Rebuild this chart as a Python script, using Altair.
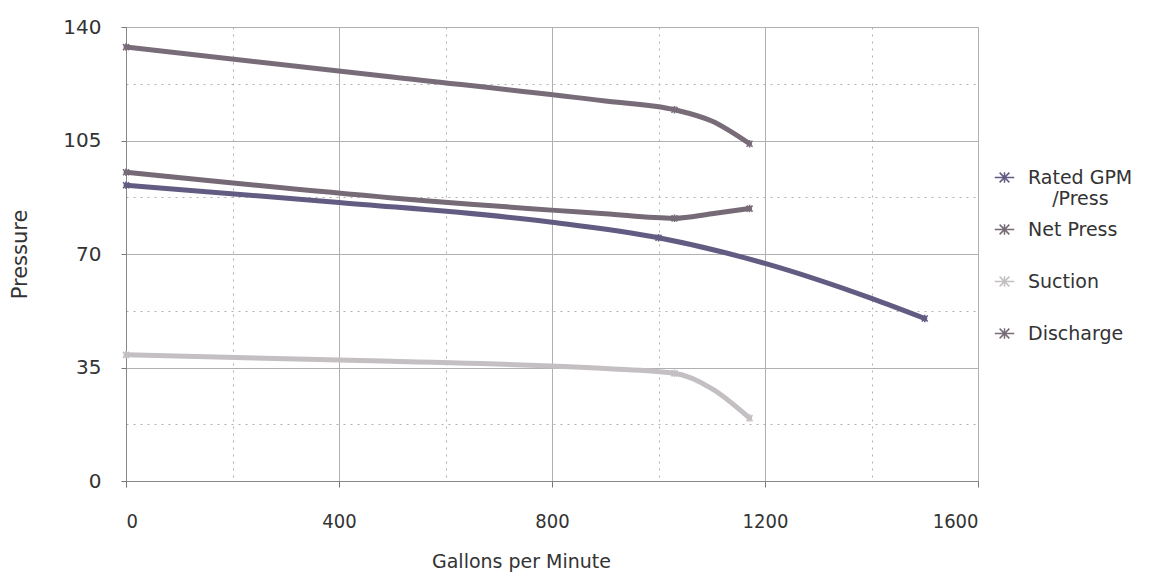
import altair as alt
import pandas as pd

# ---- data ----
series_names = ["Rated GPM /Press", "Net Press", "Suction", "Discharge"]
series_colors = ["#625c82", "#756a76", "#c3bfc3", "#786c78"]

rated_gpm = [0, 400, 800, 1000, 1200, 1400, 1500]
rated_psi = [91.2, 85.9, 79.8, 75.0, 67.1, 56.3, 50.1]
rated_marks = [0, 1000, 1500]

net_gpm = [0, 500, 900, 1030, 1100, 1171]
net_psi = [95.2, 87.3, 82.4, 81.0, 82.4, 84.0]
net_marks = [0, 1030, 1171]

suction_gpm = [0, 500, 900, 1030, 1100, 1171]
suction_psi = [38.9, 36.9, 34.7, 33.2, 28.5, 19.4]
suction_marks = [0, 1030, 1171]

discharge_gpm = [0, 500, 900, 1030, 1100, 1171]
discharge_psi = [133.8, 124.6, 117.2, 114.5, 111.0, 104.0]
discharge_marks = [0, 1030, 1171]

x_ticks = [0, 200, 400, 600, 800, 1000, 1200, 1400, 1600]
y_ticks = [0, 17.5, 35, 52.5, 70, 87.5, 105, 122.5, 140]

rows = []
for name, gs, ps, marks in [
    (series_names[0], rated_gpm, rated_psi, rated_marks),
    (series_names[1], net_gpm, net_psi, net_marks),
    (series_names[2], suction_gpm, suction_psi, suction_marks),
    (series_names[3], discharge_gpm, discharge_psi, discharge_marks),
]:
    for g, p in zip(gs, ps):
        rows.append({"series": name, "gpm": g, "psi": p, "marker": g in marks})
df = pd.DataFrame(rows)

ASTERISK = "M-0.6,-0.6L0.6,0.6M-0.6,0.6L0.6,-0.6M0,-0.75L0,0.75"
LEG_SYM = "M-1,0L1,0M-0.5,-0.5L0.5,0.5M-0.5,0.5L0.5,-0.5M0,-0.55L0,0.55"

FONT = "DejaVu Sans"
NARROW = "DejaVu Sans Condensed, Liberation Sans Narrow, DejaVu Sans"
INDENT = "\u200b\u2007\u2007"  # zero-width char + figure spaces to indent "/Press"
BLANK = "\u200b\u2007"         # blank second line keeps all legend rows equally tall

x_axis = alt.Axis(
    values=x_ticks,
    format="d",
    labelExpr="datum.value % 400 === 0 ? datum.label : ''",
    labelOverlap=False,
    labelFont=NARROW,
    labelFontSize=20,
    labelColor="#333333",
    labelPadding=24,
    tickSize=6,
    tickColor="#777777",
    tickOpacity={"condition": {"test": "datum.value % 400 === 0", "value": 1}, "value": 0},
    domainColor="#888888",
    grid=True,
    gridColor="#b0b0b0",
    gridDash={"condition": {"test": "datum.value % 400 === 0", "value": []}, "value": [2, 5]},
    title="Gallons per Minute",
    titleFont=FONT,
    titleFontSize=19,
    titleFontWeight="normal",
    titleColor="#333333",
    titlePadding=21,
    titleX=395,
    titleAnchor="start",
    titleAlign="center",
)

y_axis = alt.Axis(
    values=y_ticks,
    format="d",
    labelExpr="datum.value % 35 === 0 ? datum.label : ''",
    labelOverlap=False,
    labelFont=FONT,
    labelFontSize=20,
    labelColor="#333333",
    labelPadding=20,
    tickSize=5,
    tickColor="#777777",
    tickOpacity={"condition": {"test": "datum.value % 35 === 0", "value": 1}, "value": 0},
    domainColor="#888888",
    grid=True,
    gridColor="#b0b0b0",
    gridDash={"condition": {"test": "datum.value % 35 === 0", "value": []}, "value": [2, 5]},
    title="Pressure",
    titleFont=FONT,
    titleFontSize=21,
    titleFontWeight="normal",
    titleColor="#333333",
    titlePadding=32,
)

legend = alt.Legend(
    title=None,
    orient="none",
    legendX=868,
    legendY=140,
    symbolType=LEG_SYM,
    symbolSize=380,
    symbolStrokeWidth=1.5,
    labelFont=FONT,
    labelFontSize=19,
    labelColor="#333333",
    labelOffset=13,
    rowPadding=10,
    labelLimit=300,
    labelExpr=(
        "datum.label == 'Rated GPM /Press' ? ['Rated GPM', '"
        + INDENT
        + "/Press'] : [datum.label, '"
        + BLANK
        + "']"
    ),
)

color = alt.Color(
    "series:N",
    scale=alt.Scale(domain=series_names, range=series_colors),
    sort=series_names,
    legend=legend,
)

base = alt.Chart(df).encode(
    x=alt.X("gpm:Q", scale=alt.Scale(domain=[0, 1600], nice=False, zero=True), axis=x_axis),
    y=alt.Y("psi:Q", scale=alt.Scale(domain=[0, 140], nice=False), axis=y_axis),
    color=color,
)

lines = base.mark_line(interpolate="monotone", strokeWidth=5, strokeCap="round")
points = base.transform_filter(alt.datum.marker == True).mark_point(
    shape=ASTERISK, filled=False, size=100, strokeWidth=1.6, opacity=1
)

chart = alt.layer(lines, points).properties(
    width=852,
    height=454,
    autosize=alt.AutoSizeParams(type="none"),
    padding={"left": 118, "top": 19, "right": 165, "bottom": 92},
).configure_view(stroke="#9a9a9a", strokeWidth=1).configure(background="white")

chart.save("out.html", embed_options={"renderer": "svg", "actions": False})
